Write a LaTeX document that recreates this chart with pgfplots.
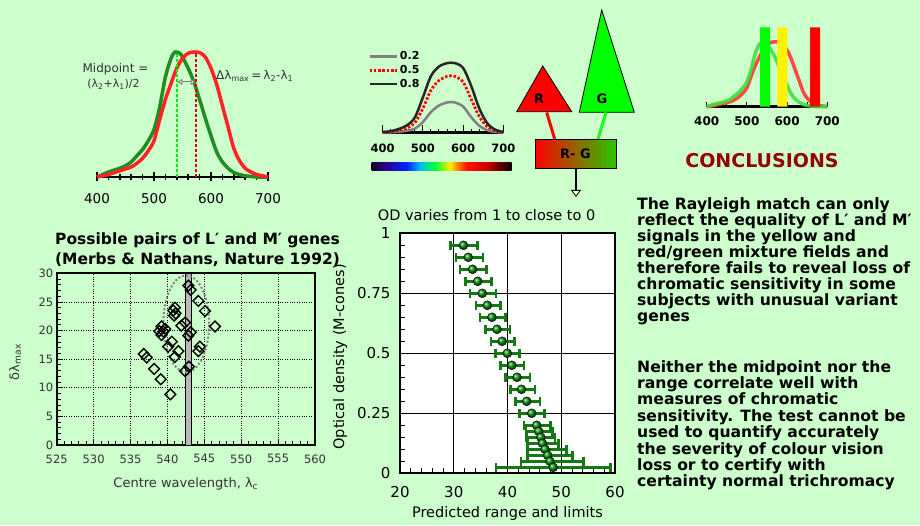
\documentclass[border=0pt]{standalone}
\usepackage{fontspec}
\setmainfont{DejaVu Sans}
\usepackage{pgfplots}
\usepackage{pgfplotstable}
\pgfplotsset{compat=1.18}
\usetikzlibrary{arrows.meta,shadings}
\definecolor{bg}{RGB}{204,255,204}
\definecolor{dkgreen}{RGB}{34,140,34}
\definecolor{myred}{RGB}{255,35,35}
\definecolor{brgreen}{RGB}{0,240,0}
\definecolor{errgreen}{RGB}{20,120,20}
\definecolor{concl}{RGB}{150,0,0}
\definecolor{ltgreen}{RGB}{60,225,60}
\definecolor{ltred}{RGB}{255,55,55}
\definecolor{rggreen}{RGB}{40,200,0}

\pgfplotstableread{
x y em ep
31.8 0.95 2.4 2.6
32.7 0.90 2.3 2.7
33.5 0.85 2.3 2.6
34.45 0.80 2.25 2.6
35.3 0.75 2.3 2.6
36.25 0.70 2.15 2.45
37.1 0.65 2.2 2.5
38.05 0.60 2.15 2.45
39.0 0.55 2.1 2.3
39.97 0.50 2.17 2.23
40.8 0.45 2.1 2.3
41.77 0.40 2.11 2.43
42.6 0.35 2.0 2.5
43.57 0.30 2.12 2.48
44.5 0.25 2.3 2.4
45.43 0.20 2.36 2.57
45.8 0.175 2.4 2.6
46.2 0.15 2.64 2.6
46.5 0.125 2.8 3.0
46.98 0.10 3.23 4.02
47.47 0.075 3.77 4.59
47.9 0.05 5.4 6.2
48.5 0.025 10.64 10.7
}\oddata

\begin{document}
\begin{tikzpicture}[x=1pt,y=1pt]
\fill[bg] (0,0) rectangle (920,525);

% ---------- top-left: M and L spectra
\begin{axis}[
  at={(97pt,348pt)}, anchor=south west, scale only axis,
  width=171pt, height=131.25pt,
  xmin=400, xmax=700, ymin=0, ymax=1.05,
  axis y line=none, axis x line=bottom,
  x axis line style={-, line width=2.5pt},
  xtick={400,500,600,700}, minor x tick num=4,
  tick align=center, major tick length=9pt, minor tick length=6pt,
  tick style={black, line width=1.5pt},
  tick label style={font=\fontsize{13.5}{16}\selectfont},
  xticklabel shift=8pt,
  /pgf/number format/assume math mode=true,
  clip=false,
]
\addplot[dkgreen, line width=3.5pt, smooth] coordinates {(400,0)(410,0.02)(420,0.04)(440,0.07)(450,0.09)(460,0.12)(470,0.17)(480,0.22)(490,0.29)(500,0.38)(510,0.56)(520,0.8)(530,0.95)(537,1.0)(545,0.99)(550,0.96)(560,0.87)(570,0.76)(580,0.62)(590,0.47)(600,0.33)(610,0.2)(620,0.12)(630,0.07)(640,0.035)(650,0.02)(660,0.01)(680,0.0)(700,0.0)};
\addplot[myred, line width=3.5pt, smooth] coordinates {(400,0)(420,0.02)(440,0.05)(460,0.08)(470,0.11)(480,0.15)(490,0.21)(500,0.29)(510,0.46)(520,0.62)(530,0.75)(540,0.87)(550,0.95)(560,0.99)(570,1.0)(580,0.995)(590,0.96)(600,0.87)(610,0.74)(620,0.57)(630,0.4)(640,0.23)(650,0.13)(660,0.07)(670,0.04)(680,0.02)(700,0.0)};
\addplot[brgreen, line width=2.5pt, dash pattern=on 2.5pt off 2.5pt] coordinates {(540,0)(540,1)};
\addplot[red!90!black, line width=2.5pt, dash pattern=on 2.5pt off 2.5pt] coordinates {(574,0)(574,1)};
\draw[gray, line width=1pt, {Triangle[open,fill=white,length=5pt,width=6pt]}-{Triangle[open,fill=white,length=5pt,width=6pt]}] (axis cs:541,0.76) -- (axis cs:573,0.76);
\end{axis}
\node[font=\fontsize{12}{14}\selectfont, text=black!80] at (115.5,456) {Midpoint =};
\node[font=\fontsize{11}{13}\selectfont, text=black!80] at (113.5,441) {(λ\textsubscript{2}+λ\textsubscript{1})/2};
\node[font=\fontsize{12}{14}\selectfont, text=black!80, anchor=base west, inner sep=0pt] at (216,445) {Δλ\textsubscript{max}\,=\,λ\textsubscript{2}-λ\textsubscript{1}};

% ---------- top-middle: optical density curves
\begin{axis}[
  at={(382.7pt,392.3pt)}, anchor=south west, scale only axis,
  width=120.6pt, height=83.2pt,
  xmin=400, xmax=700, ymin=0, ymax=1,
  axis y line=none, axis x line=bottom,
  x axis line style={-, line width=2.5pt},
  xtick={400,500,600,700}, minor x tick num=4,
  tick align=inside, major tick length=8pt, minor tick length=4pt,
  tick style={black, line width=1pt},
  tick label style={font=\bfseries\fontsize{11.5}{13}\selectfont},
  xticklabel shift=8pt,
  /pgf/number format/assume math mode=true,
  clip=false,
  legend style={at={(-0.122,1.0)}, anchor=north west, draw=none, fill=none,
    font=\bfseries\fontsize{11}{13}\selectfont, row sep=0pt, inner sep=0pt},
  legend cell align=left,
  legend image code/.code={\draw[#1] (0pt,0pt) -- (27pt,0pt);},
]
\addplot[gray, line width=2.5pt, smooth] coordinates {(400,0.002)(420,0.005)(440,0.011)(460,0.023)(480,0.049)(500,0.129)(520,0.248)(540,0.327)(560,0.363)(570,0.369)(580,0.363)(600,0.315)(620,0.187)(640,0.084)(660,0.030)(680,0.009)(700,0.002)};
\addplot[red, line width=2.8pt, dash pattern=on 2.5pt off 1.8pt, smooth] coordinates {(400,0.006)(420,0.011)(440,0.028)(460,0.056)(480,0.119)(500,0.292)(520,0.510)(540,0.628)(560,0.676)(570,0.684)(580,0.676)(600,0.611)(620,0.404)(640,0.197)(660,0.072)(680,0.023)(700,0.006)};
\addplot[black!85, line width=2.5pt, smooth] coordinates {(400,0.009)(420,0.018)(440,0.045)(460,0.088)(480,0.183)(500,0.425)(520,0.681)(540,0.795)(560,0.836)(570,0.8415)(580,0.836)(600,0.779)(620,0.5635)(640,0.295)(660,0.113)(680,0.036)(700,0.009)};
\legend{0.2,0.5,0.8}
\end{axis}
% spectrum bar
\shade[left color={rgb,255:red,17;green,0;blue,34}, right color={rgb,255:red,51;green,0;blue,136}] (371.7,354.3) rectangle (385,362);
\shade[left color={rgb,255:red,51;green,0;blue,136}, right color={rgb,255:red,0;green,34;blue,255}] (385,354.3) rectangle (406.7,362);
\shade[left color={rgb,255:red,0;green,34;blue,255}, right color={rgb,255:red,0;green,187;blue,238}] (406.7,354.3) rectangle (420,362);
\shade[left color={rgb,255:red,0;green,187;blue,238}, right color={rgb,255:red,0;green,255;blue,51}] (420,354.3) rectangle (435,362);
\shade[left color={rgb,255:red,0;green,255;blue,51}, right color={rgb,255:red,255;green,238;blue,0}] (435,354.3) rectangle (450,362);
\shade[left color={rgb,255:red,255;green,238;blue,0}, right color={rgb,255:red,255;green,136;blue,0}] (450,354.3) rectangle (456.7,362);
\shade[left color={rgb,255:red,255;green,136;blue,0}, right color={rgb,255:red,255;green,17;blue,0}] (456.7,354.3) rectangle (466.7,362);
\shade[left color={rgb,255:red,255;green,17;blue,0}, right color={rgb,255:red,204;green,0;blue,0}] (466.7,354.3) rectangle (486.7,362);
\shade[left color={rgb,255:red,204;green,0;blue,0}, right color={rgb,255:red,68;green,0;blue,0}] (486.7,354.3) rectangle (503.3,362);
\shade[left color={rgb,255:red,68;green,0;blue,0}, right color=black] (503.3,354.3) rectangle (511.7,362);

% ---------- R/G diagram
\filldraw[fill=red, draw=black, line width=0.8pt] (516.7,413.3) -- (542.7,459) -- (571.7,413.3) -- cycle;
\filldraw[fill=green, draw=black, line width=0.8pt] (579.3,412.7) -- (601.7,515) -- (634.3,412.7) -- cycle;
\node[font=\bfseries\fontsize{13}{15}\selectfont] at (539,426) {R};
\node[font=\bfseries\fontsize{13}{15}\selectfont] at (602,426) {G};
\draw[red, line width=3pt] (546.7,412.5) -- (554.7,386);
\draw[green!90!white, line width=3pt] (606,412.5) -- (598,386);
\shade[left color=red, right color=rggreen] (535,356.7) rectangle (616,385.7);
\draw[black, line width=0.8pt] (535,356.7) rectangle (616,385.7);
\node[font=\bfseries\fontsize{13}{15}\selectfont] at (575.5,371) {R- G};
\draw[black, line width=1.8pt, -{Triangle[open, fill=white, length=7pt, width=10pt, line width=0.8pt]}] (576,356.7) -- (576,328);

% ---------- top-right: spectra with primaries
\begin{axis}[
  at={(706.7pt,418.3pt)}, anchor=south west, scale only axis,
  width=120.6pt, height=81.25pt,
  xmin=400, xmax=700, ymin=0, ymax=1.25,
  axis y line=none, axis x line=bottom,
  x axis line style={-, line width=3pt},
  xtick={400,500,600,700}, minor x tick num=1,
  tick align=inside, major tick length=5pt, minor tick length=5pt,
  tick style={black, line width=1pt},
  tick label style={font=\bfseries\fontsize{12}{14}\selectfont},
  xticklabel shift=6pt,
  /pgf/number format/assume math mode=true,
  clip=false,
]
\addplot[ltred, line width=3.5pt, smooth, opacity=0.9] coordinates {(400,0)(420,0.02)(440,0.05)(460,0.08)(470,0.11)(480,0.15)(490,0.21)(500,0.29)(510,0.46)(520,0.62)(530,0.75)(540,0.87)(550,0.95)(560,0.99)(570,1.0)(580,0.995)(590,0.96)(600,0.87)(610,0.74)(620,0.57)(630,0.4)(640,0.23)(650,0.13)(660,0.07)(670,0.04)(680,0.02)(700,0.0)};
\addplot[ltgreen, line width=3.5pt, smooth, opacity=0.9] coordinates {(400,0)(410,0.02)(420,0.04)(440,0.07)(450,0.09)(460,0.12)(470,0.17)(480,0.22)(490,0.29)(500,0.38)(510,0.56)(520,0.8)(530,0.95)(540,1.0)(545,0.99)(550,0.96)(560,0.87)(570,0.76)(580,0.62)(590,0.47)(600,0.33)(610,0.2)(620,0.12)(630,0.07)(640,0.035)(650,0.02)(660,0.01)(680,0.0)(700,0.0)};
\addplot[fill=green, draw=none] coordinates {(532.6,0)(532.6,1.22)(557.5,1.22)(557.5,0)} \closedcycle;
\addplot[fill=yellow, draw=none] coordinates {(575.6,0)(575.6,1.22)(600.5,1.22)(600.5,0)} \closedcycle;
\addplot[fill=red, draw=none] coordinates {(657,0)(657,1.22)(682,1.22)(682,0)} \closedcycle;
\end{axis}
\node[font=\bfseries\fontsize{19}{22}\selectfont, text=concl] at (762,364) {CONCLUSIONS};

% ---------- bottom-left: scatter
\begin{axis}[
  at={(56.7pt,80pt)}, anchor=south west, scale only axis,
  width=258.3pt, height=171.7pt,
  xmin=525, xmax=560, ymin=0, ymax=30,
  xtick={525,530,...,560}, ytick={0,5,...,30},
  minor x tick num=4, minor y tick num=4,
  xtick pos=bottom, ytick pos=left,
  tick align=inside, major tick length=6pt, minor tick length=4pt,
  tick style={black, line width=0.8pt},
  axis line style={line width=1.8pt},
  grid=major, grid style={black, dotted, line width=0.8pt},
  tick label style={font=\fontsize{11.5}{13}\selectfont, text=black!80},
  xticklabel shift=6pt,
  /pgf/number format/assume math mode=true,
  xlabel={Centre wavelength, λ\textsubscript{c}},
  ylabel={δλ\textsubscript{max}},
  label style={font=\fontsize{13}{15}\selectfont, text=black!80},
  xlabel style={at={(axis description cs:0.5,0)}, anchor=center, yshift=-39pt},
  ylabel style={at={(axis description cs:-0.161,0.483)}, anchor=center},
]
\addplot[fill=gray!55, draw=black, line width=0.8pt] coordinates {(542.43,0)(542.43,30)(543.2,30)(543.2,0)} \closedcycle;
\draw[gray, dotted, line width=2pt] (axis cs:542.55,21.2) ellipse [x radius=22.9pt, y radius=48.4pt];
\addplot[only marks, mark=square, mark size=3.8pt, mark options={rotate=45, line width=1.4pt, black}] coordinates {
(542.84,27.84)(543.16,27.1)(544.19,25.17)(545.1,23.4)(546.45,20.7)
(541.0,24.0)(540.8,23.5)(541.1,23.0)(540.9,22.6)
(542.4,21.4)(541.9,20.85)(543.15,19.7)(542.84,19.1)
(539.2,20.7)(538.9,19.9)(539.45,19.8)(539.2,19.2)(539.7,20.3)
(540.6,18.05)(540.1,17.2)(541.5,16.4)(541.0,15.4)
(544.4,17.2)(544.2,16.4)
(536.8,15.9)(537.2,15.3)(538.2,13.3)(539.1,11.5)(540.4,8.85)
(542.4,12.9)(542.9,13.7)};
\end{axis}
\node[font=\bfseries\fontsize{15.5}{20}\selectfont, align=center] at (197.5,275) {Possible pairs of L′ and M′ genes\\(Merbs \& Nathans, Nature 1992)};

% ---------- bottom-middle: OD vs range
\begin{axis}[
  at={(400pt,51.7pt)}, anchor=south west, scale only axis,
  width=215pt, height=240pt,
  xmin=20, xmax=60, ymin=0, ymax=1,
  xtick={20,30,...,60}, ytick={0,0.25,0.5,0.75,1},
  minor x tick num=4, minor y tick num=4,
  xtick pos=bottom, ytick pos=left,
  tick align=inside, major tick length=6pt, minor tick length=5pt,
  tick style={black, line width=0.8pt},
  axis line style={line width=1.8pt},
  axis background/.style={fill=white},
  grid=major, grid style={black, line width=0.8pt},
  tick label style={font=\fontsize{15}{17}\selectfont},
  xticklabel shift=10pt, yticklabel shift=6pt,
  /pgf/number format/assume math mode=true,
  xlabel={Predicted range and limits},
  ylabel={Optical density (M-cones)},
  title={OD varies from 1 to close to 0},
  label style={font=\fontsize{14.5}{17}\selectfont},
  title style={font=\fontsize{14.5}{17}\selectfont, at={(axis description cs:0.403,1)}, anchor=center, yshift=12.5pt},
  xlabel style={at={(axis description cs:0.5,0)}, anchor=center, yshift=-40pt},
  ylabel style={at={(axis description cs:-0.279,0.485)}, anchor=center},
  clip=false,
]
\addplot[only marks, mark=ball, mark size=4.5pt, ball color=green!55!black,
  error bars/.cd, x dir=both, x explicit,
  error bar style={line width=2.5pt, draw=errgreen},
  error mark=|,
  error mark options={line width=2.5pt, draw=errgreen, mark size=4.5pt}]
  table[x=x, y=y, x error minus=em, x error plus=ep] {\oddata};
\end{axis}

% ---------- conclusions text
\node[anchor=north west, align=left, inner sep=0pt, font=\bfseries\fontsize{15.6}{16.1}\selectfont] at (637,328) {The Rayleigh match can only\\reflect the equality of L′ and M′\\signals in the yellow and\\red/green mixture fields and\\therefore fails to reveal loss of\\chromatic sensitivity in some\\subjects with unusual variant\\genes};
\node[anchor=north west, align=left, inner sep=0pt, font=\bfseries\fontsize{15.6}{16.4}\selectfont] at (637,165) {Neither the midpoint nor the\\range correlate well with\\measures of chromatic\\sensitivity. The test cannot be\\used to quantify accurately\\the severity of colour vision\\loss or to certify with\\certainty normal trichromacy};

\pgfresetboundingbox
\path[use as bounding box] (0,0) rectangle (920,525);
\end{tikzpicture}
\end{document}
